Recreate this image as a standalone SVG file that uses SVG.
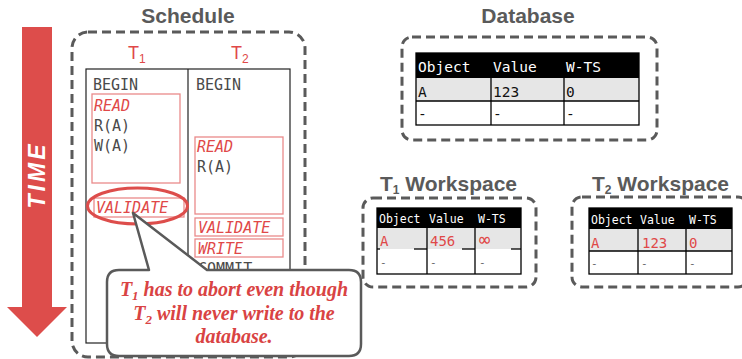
<svg xmlns="http://www.w3.org/2000/svg" width="742" height="359" viewBox="0 0 742 359">
<defs>
<style>
.title{font-family:"Liberation Sans",Arial,sans-serif;font-weight:bold;fill:#5a5a5a;font-size:21px}
.dash{fill:none;stroke:#5a5a5a;stroke-width:3;stroke-dasharray:9 5}
.mono{font-family:"DejaVu Sans Mono","Liberation Mono",monospace;fill:#4a4a4a;font-size:15px}
.redbox{fill:none;stroke:#ea8a8a;stroke-width:1.3}
.it{font-style:italic}
.tl{fill:none;stroke:#000;stroke-width:1.3}
.hdr{font-family:"DejaVu Sans Mono","Liberation Mono",monospace;fill:#fff}
.cell{font-family:"DejaVu Sans Mono","Liberation Mono",monospace;fill:#111}
.dim{fill:#666}
.red{fill:#e04848}
.note{font-family:"Liberation Serif","Times New Roman",serif;font-weight:bold;font-style:italic;fill:#d94343;font-size:20px}
</style>
</defs>

<g id="time-arrow">
<polygon points="22,27 52,27 52,307 67,307 37,337 7,307 22,307" fill="#dd4d4b"/>
<text transform="translate(45,175) rotate(-90)" text-anchor="middle" font-family="Liberation Sans,Arial,sans-serif" font-weight="bold" font-style="italic" font-size="23" letter-spacing="3" fill="#fff">TIME</text>
</g>

<g id="schedule">
<text class="title" x="188" y="23" text-anchor="middle">Schedule</text>
<rect class="dash" x="72" y="32" width="233" height="325" rx="16"/>
<text x="128" y="59" font-family="Liberation Sans,Arial,sans-serif" font-size="18" class="red">T<tspan font-size="12" dy="4">1</tspan></text>
<text x="231" y="59" font-family="Liberation Sans,Arial,sans-serif" font-size="18" class="red">T<tspan font-size="12" dy="4">2</tspan></text>
<rect x="86" y="69" width="204" height="274" fill="none" stroke="#222" stroke-width="1.2"/>
<line x1="188" y1="69" x2="188" y2="343" stroke="#222" stroke-width="1.2"/>

<g id="t1-col">
<text class="mono" x="93" y="90">BEGIN</text>
<rect class="redbox" x="92" y="94" width="88" height="89"/>
<text class="mono red it" x="94" y="111">READ</text>
<text class="mono" x="94" y="131">R(A)</text>
<text class="mono" x="94" y="151">W(A)</text>
<rect class="redbox" x="94" y="198" width="90" height="19"/>
<text class="mono red it" x="96" y="213">VALIDATE</text>
<ellipse cx="137.5" cy="206" rx="50" ry="18" fill="none" stroke="#dd4d4b" stroke-width="3"/>
</g>

<g id="t2-col">
<text class="mono" x="196" y="90">BEGIN</text>
<rect class="redbox" x="195" y="137" width="88" height="77"/>
<text class="mono red it" x="197" y="152">READ</text>
<text class="mono" x="197" y="172">R(A)</text>
<rect class="redbox" x="195" y="218" width="88" height="18"/>
<text class="mono red it" x="198" y="233">VALIDATE</text>
<rect class="redbox" x="195" y="239" width="88" height="18"/>
<text class="mono red it" x="198" y="254">WRITE</text>
<text class="mono" x="198" y="274">COMMIT</text>
</g>
</g>

<g id="database">
<text class="title" x="528" y="23" text-anchor="middle" font-size="22">Database</text>
<rect class="dash" x="402" y="37" width="255" height="103" rx="10"/>
<rect x="416" y="53" width="223" height="25" fill="#000"/>
<rect x="416" y="78" width="223" height="23" fill="#e6e6e6"/>
<rect x="416" y="101" width="223" height="24" fill="#fff"/>
<rect class="tl" x="416" y="53" width="223" height="72"/>
<line class="tl" x1="416" y1="101" x2="639" y2="101"/>
<line class="tl" x1="491" y1="78" x2="491" y2="125"/>
<line class="tl" x1="564" y1="78" x2="564" y2="125"/>
<text class="hdr" x="418" y="72" font-size="14.5">Object</text>
<text class="hdr" x="493" y="72" font-size="14.5">Value</text>
<text class="hdr" x="566" y="72" font-size="14.5">W-TS</text>
<text class="cell" x="418" y="97" font-size="14.5">A</text>
<text class="cell" x="493" y="97" font-size="14.5">123</text>
<text class="cell" x="566" y="97" font-size="14.5">0</text>
<text class="cell" x="418" y="119" font-size="14.5">-</text>
<text class="cell" x="493" y="119" font-size="14.5">-</text>
<text class="cell" x="566" y="119" font-size="14.5">-</text>
</g>

<g id="t1-workspace">
<text class="title" x="380" y="191" font-size="18">T<tspan font-size="12" dy="3">1</tspan><tspan dy="-3"> Workspace</tspan></text>
<rect class="dash" x="363" y="198" width="173" height="89" rx="10"/>
<rect x="377" y="208" width="144" height="20" fill="#000"/>
<rect x="377" y="228" width="144" height="21" fill="#e6e6e6"/>
<rect x="377" y="249" width="144" height="25" fill="#fff"/>
<rect class="tl" x="377" y="208" width="144" height="66"/>
<line class="tl" x1="427" y1="228" x2="427" y2="274"/>
<line class="tl" x1="475" y1="228" x2="475" y2="274"/>
<line class="tl" x1="414" y1="249" x2="427" y2="249"/>
<line class="tl" x1="462" y1="249" x2="475" y2="249"/>
<line class="tl" x1="511" y1="249" x2="521" y2="249"/>
<line class="tl" x1="377" y1="249" x2="380" y2="249"/>
<text class="hdr" x="379" y="223" font-size="11.5">Object</text>
<text class="hdr" x="429" y="223" font-size="11.5">Value</text>
<text class="hdr" x="478" y="223" font-size="11.5">W-TS</text>
<text class="cell red" x="380" y="246" font-size="14">A</text>
<text class="cell red" x="430" y="246" font-size="14">456</text>
<text class="cell red" x="479" y="246" font-size="19">∞</text>
<text class="cell dim" x="380" y="266" font-size="11">-</text>
<text class="cell dim" x="430" y="266" font-size="11">-</text>
<text class="cell dim" x="479" y="266" font-size="11">-</text>
</g>

<g id="t2-workspace">
<text class="title" x="592" y="191" font-size="18">T<tspan font-size="12" dy="3">2</tspan><tspan dy="-3"> Workspace</tspan></text>
<rect class="dash" x="572" y="197" width="176" height="90" rx="10"/>
<rect x="589" y="208" width="143" height="21" fill="#000"/>
<rect x="589" y="229" width="143" height="22" fill="#e6e6e6"/>
<rect x="589" y="251" width="143" height="23" fill="#fff"/>
<rect class="tl" x="589" y="208" width="143" height="66"/>
<line class="tl" x1="589" y1="251" x2="732" y2="251"/>
<line class="tl" x1="638" y1="229" x2="638" y2="274"/>
<line class="tl" x1="686" y1="229" x2="686" y2="274"/>
<text class="hdr" x="591" y="224" font-size="11.5">Object</text>
<text class="hdr" x="640" y="224" font-size="11.5">Value</text>
<text class="hdr" x="689" y="224" font-size="11.5">W-TS</text>
<text class="cell red" x="591" y="248" font-size="14">A</text>
<text class="cell red" x="642" y="248" font-size="14">123</text>
<text class="cell red" x="689" y="248" font-size="14">0</text>
<text class="cell dim" x="591" y="267" font-size="11">-</text>
<text class="cell dim" x="641" y="267" font-size="11">-</text>
<text class="cell dim" x="689" y="267" font-size="11">-</text>
</g>

<g id="connectors">
<path d="M119,270 H149 L133,213 L207,270 H349 Q361,270 361,282 V344 Q361,356 349,356 H119 Q107,356 107,344 V282 Q107,270 119,270 Z" fill="#fff" stroke="#5a5a5a" stroke-width="2.5" stroke-linejoin="round"/>
</g>

<g id="callout">
<text class="note" x="234" y="296" text-anchor="middle">T<tspan font-size="13" dy="4">1</tspan><tspan dy="-4"> has to abort even though</tspan></text>
<text class="note" x="234" y="320" text-anchor="middle">T<tspan font-size="13" dy="4">2</tspan><tspan dy="-4"> will never write to the</tspan></text>
<text class="note" x="234" y="343" text-anchor="middle">database.</text>
</g>
</svg>
